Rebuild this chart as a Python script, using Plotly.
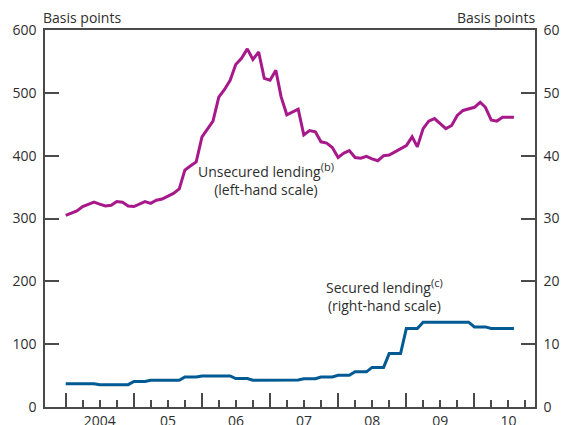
import plotly.graph_objects as go
import pandas as pd

# Monthly series, Jan 2004 - Aug 2010
unsecured_bp = [
    305, 308, 312, 319, 323, 326, 323, 320, 321, 327, 326, 320,
    319, 323, 327, 324, 329, 331, 336, 340, 347, 377, 384, 390,
    430, 443, 455, 493, 505, 520, 545, 555, 570, 553, 565, 523,
    520, 536, 494, 465, 470, 474, 433, 440, 438, 422, 420, 413,
    397, 404, 408, 397, 396, 399, 395, 392, 400, 401, 406, 411,
    416, 430, 414, 443, 455, 459, 451, 443, 448, 464, 472, 474,
    477, 485, 477, 457, 455, 461, 461, 461,
]
secured_bp = [
    3.7, 3.7, 3.7, 3.7, 3.7, 3.7, 3.55, 3.55, 3.55, 3.55, 3.55, 3.55,
    4.05, 4.05, 4.05, 4.25, 4.25, 4.25, 4.25, 4.25, 4.25, 4.78, 4.78, 4.78,
    4.94, 4.94, 4.94, 4.94, 4.94, 4.94, 4.52, 4.52, 4.52, 4.25, 4.25, 4.25,
    4.2, 4.2, 4.2, 4.3, 4.3, 4.3, 4.5, 4.5, 4.5, 4.78, 4.78, 4.78,
    5.05, 5.05, 5.05, 5.6, 5.6, 5.6, 6.3, 6.3, 6.3, 8.5, 8.5, 8.5,
    12.5, 12.5, 12.5, 13.5, 13.5, 13.5, 13.5, 13.5, 13.5, 13.5, 13.5, 13.5,
    12.75, 12.75, 12.75, 12.5, 12.5, 12.5, 12.5, 12.5,
]
months = pd.date_range("2004-01-01", periods=len(unsecured_bp), freq="MS")

left_ticks = [0, 100, 200, 300, 400, 500, 600]
right_ticks = [0, 10, 20, 30, 40, 50, 60]
year_labels = {"04": "2004"}

MAGENTA = '#A7198B'
BLUE = '#005A93'
AXIS = '#4a4a4a'
TEXT = '#2e2e2e'
FONT = 'Open Sans'
SUP = '<sup><span style="font-size:11px">{}</span></sup>'

quarters = pd.date_range("2004-04-01", "2010-10-01", freq="QS")

fig = go.Figure()
fig.add_trace(go.Scatter(
    x=months, y=unsecured_bp, mode='lines',
    line=dict(color=MAGENTA, width=3), yaxis='y', showlegend=False
))
fig.add_trace(go.Scatter(
    x=months, y=secured_bp, mode='lines',
    line=dict(color=BLUE, width=3), yaxis='y2', showlegend=False
))

fig.update_layout(
    width=561, height=425,
    margin=dict(l=45, r=26, t=30, b=18),
    paper_bgcolor='white', plot_bgcolor='white',
    font=dict(family=FONT, size=14, color=TEXT),
    xaxis=dict(
        type='date', automargin=False,
        range=['2003-09-12', '2010-11-22'],
        tick0='2004-01-01', dtick='M12',
        tickformat='%y', ticklabelmode='period', labelalias=year_labels,
        ticks='inside', ticklen=14, tickwidth=1.5, tickcolor=AXIS,
        minor=dict(tickmode='array', tickvals=quarters, ticks='inside',
                   ticklen=7, tickwidth=1.5, tickcolor=AXIS),
        showline=True, linecolor=AXIS, linewidth=1.5, mirror=True,
        showgrid=False, zeroline=False,
    ),
    yaxis=dict(
        range=[0, 600], tickvals=left_ticks, automargin=False,
        ticks='inside', ticklen=14, tickwidth=1.5, tickcolor=AXIS,
        showline=True, linecolor=AXIS, linewidth=1.5,
        showgrid=False, zeroline=False, ticklabelstandoff=4,
    ),
    yaxis2=dict(
        range=[0, 60], tickvals=right_ticks, overlaying='y', side='right',
        automargin=False,
        ticks='inside', ticklen=14, tickwidth=1.5, tickcolor=AXIS,
        showline=True, linecolor=AXIS, linewidth=1.5,
        showgrid=False, zeroline=False, ticklabelstandoff=4,
    ),
    annotations=[
        dict(text='Basis points', xref='paper', yref='paper', x=0, y=1,
             xanchor='left', yanchor='middle', xshift=-4, yshift=13,
             showarrow=False),
        dict(text='Basis points', xref='paper', yref='paper', x=1, y=1,
             xanchor='right', yanchor='middle', xshift=2, yshift=13,
             showarrow=False),
        dict(text='Unsecured lending' + SUP.format('(b)') + '<br>(left-hand scale)',
             x='2006-12-10', y=363, xref='x', yref='y', showarrow=False,
             align='center'),
        dict(text='Secured lending' + SUP.format('(c)') + '<br>(right-hand scale)',
             x='2008-09-05', y=17.8, xref='x', yref='y2', showarrow=False,
             align='center'),
    ],
)

fig.write_html("out.html", config={'displayModeBar': False},
               post_script="document.body.style.margin='0px';")
